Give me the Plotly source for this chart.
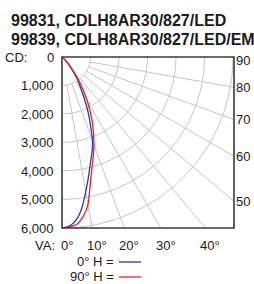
import numpy as np
import plotly.graph_objects as go

# ---------------- data ----------------
title_lines = ["99831, CDLH8AR30/827/LED", "99839, CDLH8AR30/827/LED/EM"]
angles = [0, 2.5, 5, 7.5, 10, 12.5, 15, 17.5, 20, 25, 30, 35, 40, 45, 50, 55, 60, 65, 70, 75, 80, 85, 90]
cd_0H = [6000, 5940, 5740, 5345, 4800, 4300, 3850, 3500, 3130, 2200, 1400, 900, 450, 180, 60, 20, 5,
         0, 0, 0, 0, 0, 0]
cd_90H = [6000, 5970, 5900, 5650, 5250, 4580, 4050, 3650, 3280, 2520, 1770, 1100, 550, 200, 60, 20, 5,
          0, 0, 0, 0, 0, 0]
series_names = ["0° H =", "90° H ="]
series_colors = ["#2a3c9c", "#e8202a"]

cd_ticks = [0, 1000, 2000, 3000, 4000, 5000, 6000]
cd_tick_labels = ["0", "1,000", "2,000", "3,000", "4,000", "5,000", "6,000"]
arc_values = [1000, 2000, 3000, 4000, 5000, 6000]
ray_angles = [10, 20, 30, 40, 50, 60, 70, 80]
va_ticks = [0, 10, 20, 30, 40]
va_labels = ["0°", "10°", "20°", "30°", "40°"]
side_ticks = [90, 80, 70, 60, 50]
side_labels = ["90", "80", "70", "60", "50"]

# ---------------- geometry ----------------
W, H = 254, 284
ML, MR, MT, MB = 62, 20, 57, 56
PW, PH = W - ML - MR, H - MT - MB
CD_MAX = 6000.0
X_MAX = CD_MAX * PW / PH

FONT = "Arial, Liberation Sans, Helvetica, sans-serif"
TXT = "#1a1a1a"
GRID = "#c6c6c6"


def to_xy(theta_deg, cd):
    t = np.radians(np.asarray(theta_deg, dtype=float))
    r = np.asarray(cd, dtype=float)
    return r * np.sin(t), -r * np.cos(t)


fig = go.Figure()

# grid: arcs
gx, gy = [], []
tt = np.linspace(0, 90, 91)
for v in arc_values:
    x, y = to_xy(tt, np.full_like(tt, v))
    gx += list(x) + [None]
    gy += list(y) + [None]
# grid: rays starting at the first arc
for a in ray_angles:
    t = np.radians(a)
    r_end = min(CD_MAX / np.cos(t), X_MAX / np.sin(t))
    x, y = to_xy([a, a], [arc_values[0], r_end])
    gx += list(x) + [None]
    gy += list(y) + [None]
fig.add_trace(go.Scatter(x=gx, y=gy, mode="lines", line=dict(color=GRID, width=1),
                         hoverinfo="skip", showlegend=False))

# curves
for vals, col, name in [(cd_0H, series_colors[0], series_names[0]),
                        (cd_90H, series_colors[1], series_names[1])]:
    x, y = to_xy(angles, vals)
    fig.add_trace(go.Scatter(x=x, y=y, mode="lines", name=name,
                             line=dict(color=col, width=1.3, shape="spline", smoothing=0.6),
                             showlegend=False))

ann = []
# title
for i, line in enumerate(title_lines):
    ann.append(dict(text="<b>%s</b>" % line, xref="paper", yref="paper",
                    x=(9 - ML) / PW, y=1, xanchor="left", yanchor="middle",
                    yshift=MT - (20 + 19 * i), showarrow=False,
                    font=dict(family=FONT, size=16, color=TXT)))
# CD axis labels
for v, lab in zip(cd_ticks, cd_tick_labels):
    ann.append(dict(text=lab, xref="paper", yref="y", x=0, y=-v, xanchor="right",
                    yanchor="middle", xshift=-6, showarrow=False,
                    font=dict(family=FONT, size=13, color=TXT)))
ann.append(dict(text="CD:", xref="paper", yref="y", x=(3 - ML) / PW, y=0, xanchor="left",
                yanchor="middle", showarrow=False, font=dict(family=FONT, size=13, color=TXT)))
# VA labels along bottom
for a, lab in zip(va_ticks, va_labels):
    xv = CD_MAX * np.tan(np.radians(a))
    ann.append(dict(text=lab, xref="x", yref="paper", x=xv, y=0, xanchor="center",
                    yanchor="middle", xshift=5, yshift=-17, showarrow=False,
                    font=dict(family=FONT, size=13, color=TXT)))
ann.append(dict(text="VA:", xref="paper", yref="paper", x=(57 - ML) / PW, y=0, xanchor="right",
                yanchor="middle", yshift=-17, showarrow=False,
                font=dict(family=FONT, size=13, color=TXT)))
# side angle labels
for a, lab in zip(side_ticks, side_labels):
    t = np.radians(a)
    yv = -X_MAX / np.tan(t) if a < 90 else 0.0
    ann.append(dict(text=lab, xref="paper", yref="y", x=1, y=yv, xanchor="left",
                    yanchor="middle", xshift=0, yshift=-3 if a == 90 else 0, showarrow=False,
                    font=dict(family=FONT, size=13, color=TXT)))
# legend
shapes = []
for i, (name, col) in enumerate(zip(series_names, series_colors)):
    ycen = 261 + 15 * i
    ann.append(dict(text=name, xref="paper", yref="paper", x=(116 - ML) / PW, y=0,
                    xanchor="right", yanchor="middle", yshift=(MT + PH) - ycen, showarrow=False,
                    font=dict(family=FONT, size=13, color=TXT)))
    yp = (MT + PH - (ycen + 1)) / PH
    shapes.append(dict(type="line", xref="paper", yref="paper", x0=(119 - ML) / PW,
                       x1=(141 - ML) / PW, y0=yp, y1=yp, line=dict(color=col, width=1.3)))

shapes.append(dict(type="rect", xref="paper", yref="paper", x0=0, x1=1, y0=0, y1=1,
                   line=dict(color="#3a3a3a", width=1.6), layer="above"))

fig.update_layout(
    width=W, height=H, margin=dict(l=ML, r=MR, t=MT, b=MB, pad=0),
    paper_bgcolor="white", plot_bgcolor="white",
    xaxis=dict(range=[0, X_MAX], showgrid=False, zeroline=False, showticklabels=False,
               ticks="", fixedrange=True),
    yaxis=dict(range=[-CD_MAX, 0], showgrid=False, zeroline=False, showticklabels=False,
               ticks="", fixedrange=True),
    annotations=ann, shapes=shapes, showlegend=False,
)

fig.write_html("out.html", config={"displayModeBar": False},
               post_script="document.body.style.margin='0';document.body.style.overflow='hidden';")
